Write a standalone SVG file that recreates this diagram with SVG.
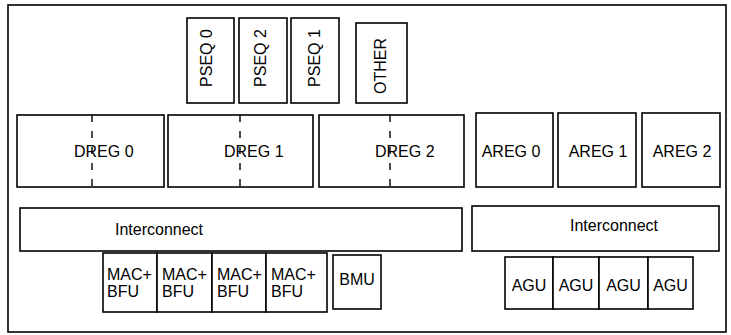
<svg xmlns="http://www.w3.org/2000/svg" width="731" height="335" viewBox="0 0 731 335">
<style>
.box{fill:#fff;stroke:#000;stroke-width:1.6}
.t{font-family:"Liberation Sans",Arial,sans-serif;font-size:16px;fill:#000}
.c{text-anchor:middle}
.dash{stroke:#000;stroke-width:1.4;stroke-dasharray:7 9;fill:none}
</style>
<rect width="731" height="335" fill="#fff"/>
<g id="outer"><rect class="box" x="8" y="5" width="718" height="327"/></g>

<g id="pseq0"><rect class="box" x="187" y="18" width="47" height="85"/><text class="t c" transform="translate(212,58) rotate(-90)">PSEQ 0</text></g>
<g id="pseq2"><rect class="box" x="239" y="18" width="48" height="85"/><text class="t c" transform="translate(266,58) rotate(-90)">PSEQ 2</text></g>
<g id="pseq1"><rect class="box" x="291" y="18" width="48" height="85"/><text class="t c" transform="translate(320,58) rotate(-90)">PSEQ 1</text></g>
<g id="other"><rect class="box" x="356" y="23" width="51" height="80"/><text class="t c" transform="translate(386,66) rotate(-90)">OTHER</text></g>

<g id="dreg0"><rect class="box" x="17" y="115" width="147" height="72"/><line class="dash" x1="92" y1="115" x2="92" y2="187"/><text class="t" x="74" y="157">DREG 0</text></g>
<g id="dreg1"><rect class="box" x="168" y="115" width="145" height="72"/><line class="dash" x1="240" y1="115" x2="240" y2="187"/><text class="t" x="224" y="157">DREG 1</text></g>
<g id="dreg2"><rect class="box" x="319" y="115" width="145" height="72"/><line class="dash" x1="390" y1="115" x2="390" y2="187"/><text class="t" x="375" y="157">DREG 2</text></g>

<g id="areg0"><rect class="box" x="476" y="113" width="77" height="74"/><text class="t c" x="511" y="157">AREG 0</text></g>
<g id="areg1"><rect class="box" x="558" y="113" width="78" height="74"/><text class="t c" x="598" y="157">AREG 1</text></g>
<g id="areg2"><rect class="box" x="642" y="113" width="78" height="74"/><text class="t c" x="682" y="157">AREG 2</text></g>

<g id="interconnect-left"><rect class="box" x="20" y="208" width="442" height="43"/><text class="t c" x="159" y="235">Interconnect</text></g>
<g id="interconnect-right"><rect class="box" x="472" y="206" width="247" height="45"/><text class="t c" x="614" y="231">Interconnect</text></g>

<g id="mac0"><rect class="box" x="103" y="253" width="54" height="59"/><text class="t" x="107" y="280">MAC+</text><text class="t" x="107" y="297">BFU</text></g>
<g id="mac1"><rect class="box" x="157" y="253" width="55" height="59"/><text class="t" x="162" y="280">MAC+</text><text class="t" x="162" y="297">BFU</text></g>
<g id="mac2"><rect class="box" x="212" y="253" width="54" height="59"/><text class="t" x="217" y="280">MAC+</text><text class="t" x="217" y="297">BFU</text></g>
<g id="mac3"><rect class="box" x="266" y="253" width="61" height="59"/><text class="t" x="271" y="280">MAC+</text><text class="t" x="271" y="297">BFU</text></g>
<g id="bmu"><rect class="box" x="333" y="255" width="48" height="54"/><text class="t c" x="357" y="285">BMU</text></g>

<g id="agu0"><rect class="box" x="505" y="257" width="48" height="52"/><text class="t c" x="529" y="291">AGU</text></g>
<g id="agu1"><rect class="box" x="553" y="257" width="46" height="52"/><text class="t c" x="576" y="291">AGU</text></g>
<g id="agu2"><rect class="box" x="599" y="257" width="49" height="52"/><text class="t c" x="623.5" y="291">AGU</text></g>
<g id="agu3"><rect class="box" x="648" y="257" width="45" height="52"/><text class="t c" x="670.5" y="291">AGU</text></g>

<g id="connectors"></g>
</svg>
